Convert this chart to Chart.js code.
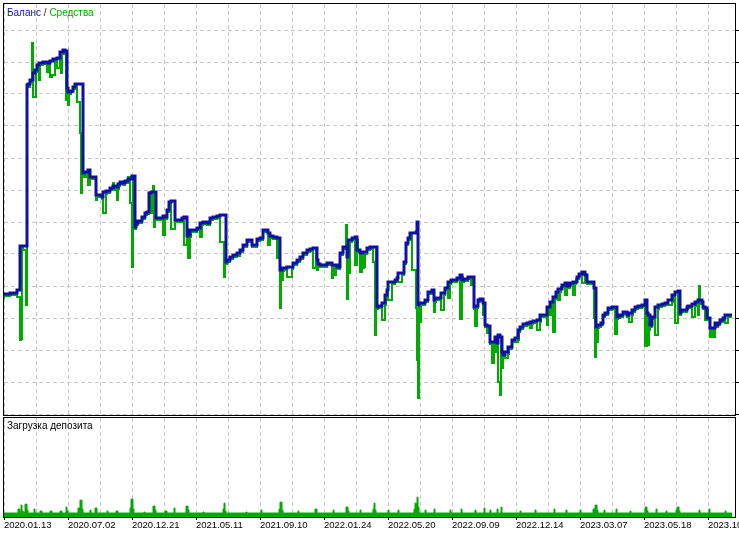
<!DOCTYPE html>
<html>
<head>
<meta charset="utf-8">
<script src="https://cdn.jsdelivr.net/npm/chart.js@4.4.1/dist/chart.umd.min.js"></script>
<style>
html, body { margin: 0; padding: 0; background: #fff; }
#wrap { position: relative; width: 739px; height: 533px; overflow: hidden; background: #fff; }
#top { position: absolute; left: 0; top: 0; }
#bottom { position: absolute; left: 0; top: 416px; }
</style>
</head>
<body>
<div id="wrap">
<canvas id="top" width="739" height="416"></canvas>
<canvas id="bottom" width="739" height="117"></canvas>
</div>
<script>
// x axis = deal number, one date label every 64 deals
var dateLabels = ["2020.01.13", "2020.07.02", "2020.12.21", "2021.05.11", "2021.09.10", "2022.01.24",
    "2022.05.20", "2022.09.09", "2022.12.14", "2023.03.07", "2023.05.18", "2023.10.02"];

var balanceDeals = [
    0, 6, 13, 16, 18, 23, 24, 26, 29, 31, 33, 35, 39, 43, 46, 49, 53, 56, 59, 61,
    63, 64, 67, 69, 71, 73, 79, 80, 84, 86, 88, 92, 93, 98, 99, 102, 106, 109, 113, 114,
    116, 119, 121, 124, 128, 131, 132, 134, 138, 141, 143, 145, 147, 152, 153, 159, 161, 163, 165, 167,
    171, 172, 178, 180, 183, 184, 186, 189, 193, 196, 199, 203, 206, 209, 213, 216, 222, 223, 226, 229,
    233, 236, 239, 243, 245, 248, 249, 253, 256, 259, 262, 264, 266, 269, 273, 276, 278, 283, 289, 293,
    296, 299, 303, 306, 309, 313, 314, 316, 323, 328, 333, 336, 339, 343, 344, 348, 351, 353, 356, 359,
    363, 366, 369, 373, 374, 378, 381, 383, 384, 388, 391, 393, 394, 398, 400, 402, 404, 406, 408, 412,
    413, 414, 415, 418, 421, 424, 428, 430, 431, 434, 437, 441, 444, 447, 449, 453, 456, 458, 460, 464,
    467, 470, 471, 474, 476, 479, 481, 483, 486, 488, 491, 493, 494, 496, 498, 499, 501, 504, 508, 511,
    514, 516, 519, 523, 526, 529, 533, 536, 539, 543, 546, 549, 552, 554, 558, 561, 563, 566, 569, 573,
    575, 578, 581, 583, 586, 590, 592, 593, 597, 599, 601, 604, 608, 611, 613, 614, 616, 619, 623, 625,
    628, 631, 634, 638, 641, 643, 644, 646, 648, 651, 654, 658, 661, 664, 668, 671, 674, 676, 677, 680,
    683, 684, 688, 691, 694, 696, 698, 699, 701, 703, 706, 709, 711, 712, 714, 716, 719, 721, 724, 728
];
var balanceValues = [
    7025, 7000, 7025, 7100, 8200, 8200, 12225, 12250, 12350, 12525, 12600, 12725, 12775, 12800, 12775, 12825, 12875, 12900, 13050, 13100,
    13075, 12150, 12050, 12075, 12175, 12250, 12250, 10025, 10050, 10100, 9925, 9925, 9475, 9475, 9425, 9550, 9575, 9650, 9700, 9675,
    9750, 9800, 9775, 9825, 9875, 9950, 8675, 8775, 8825, 8925, 9025, 9050, 9525, 9550, 8900, 8900, 8950, 8925, 9100, 9300,
    9325, 8850, 8850, 8900, 8925, 8450, 8475, 8600, 8600, 8650, 8775, 8800, 8775, 8900, 8925, 8950, 8975, 7800, 7850, 7925,
    7975, 8025, 8100, 8225, 8350, 8350, 8225, 8225, 8375, 8400, 8600, 8600, 8525, 8450, 8425, 8400, 7600, 7650, 7675, 7775,
    7850, 7925, 8025, 8100, 8125, 8150, 7850, 7750, 7725, 7775, 7725, 7675, 8025, 8175, 7925, 8350, 8400, 8425, 8100, 8025,
    8050, 8150, 8175, 8175, 6675, 6700, 6775, 6975, 7100, 7300, 7300, 7350, 7400, 7525, 7525, 7800, 8275, 8400, 8525, 8525,
    8550, 8800, 6725, 6775, 6775, 6850, 7050, 7100, 6850, 6900, 6900, 7025, 7150, 7300, 7350, 7350, 7400, 7475, 7350, 7375,
    7425, 7425, 6675, 6700, 6850, 6875, 6775, 6225, 6200, 5800, 5800, 5925, 5775, 5975, 5925, 5550, 5475, 5550, 5675, 5850,
    5900, 6100, 6175, 6250, 6275, 6300, 6325, 6350, 6475, 6475, 6675, 6800, 6925, 7050, 7125, 7225, 7275, 7200, 7275, 7300,
    7425, 7500, 7550, 7475, 7300, 7300, 7150, 6175, 6225, 6275, 6475, 6525, 6650, 6675, 6675, 6425, 6450, 6475, 6550, 6475,
    6525, 6600, 6675, 6700, 6725, 6850, 6525, 6475, 6225, 6425, 6675, 6725, 6750, 6775, 6850, 6975, 7050, 7075, 6525, 6600,
    6600, 6675, 6700, 6750, 6800, 6850, 6850, 6800, 6675, 6650, 6400, 6150, 6150, 6275, 6225, 6275, 6350, 6400, 6475, 6475
];

var equityDeals = [
    0, 6, 13, 14, 16, 17, 18, 19, 22, 23, 24, 26, 28, 29, 30, 32, 33, 35, 36, 39,
    43, 44, 46, 48, 49, 51, 53, 56, 57, 58, 59, 61, 62, 63, 64, 65, 67, 69, 71, 73,
    76, 77, 78, 79, 80, 82, 84, 86, 88, 92, 93, 98, 99, 102, 103, 106, 109, 110, 111, 113,
    114, 115, 116, 119, 121, 124, 126, 128, 129, 130, 131, 132, 134, 138, 141, 143, 145, 147, 148, 149,
    150, 151, 152, 153, 159, 161, 162, 163, 165, 167, 171, 172, 178, 180, 183, 184, 186, 187, 189, 193,
    196, 198, 199, 203, 206, 209, 213, 216, 220, 221, 222, 223, 226, 229, 233, 236, 239, 243, 245, 248,
    249, 253, 256, 259, 262, 264, 266, 267, 269, 273, 275, 276, 277, 278, 279, 280, 283, 288, 289, 293,
    296, 299, 303, 306, 309, 312, 313, 314, 316, 323, 328, 329, 330, 332, 333, 336, 339, 342, 343, 344,
    345, 346, 348, 351, 353, 354, 356, 358, 359, 360, 361, 363, 366, 369, 371, 372, 373, 374, 378, 381,
    382, 383, 384, 388, 389, 391, 393, 394, 398, 399, 400, 402, 404, 406, 408, 412, 413, 414, 415, 416,
    417, 418, 421, 424, 428, 430, 431, 432, 434, 437, 440, 441, 444, 446, 447, 449, 453, 456, 458, 459,
    460, 464, 467, 469, 470, 471, 473, 474, 476, 479, 480, 481, 483, 485, 486, 488, 490, 491, 492, 493,
    494, 496, 497, 498, 499, 501, 504, 505, 508, 511, 514, 515, 516, 519, 523, 526, 528, 529, 533, 536,
    537, 539, 543, 544, 546, 548, 549, 551, 552, 554, 556, 557, 561, 563, 564, 566, 569, 571, 572, 575,
    578, 581, 582, 583, 586, 590, 591, 592, 593, 594, 595, 597, 599, 601, 604, 608, 611, 613, 614, 616,
    619, 623, 625, 628, 629, 631, 634, 638, 641, 643, 644, 645, 646, 648, 651, 654, 655, 658, 661, 664,
    668, 669, 671, 674, 675, 676, 677, 680, 683, 684, 688, 691, 692, 694, 695, 696, 697, 699, 701, 703,
    704, 706, 708, 709, 711, 712, 714, 716, 719, 721, 724, 725, 728
];
var equityValues = [
    6875, 6950, 6975, 6925, 6925, 5850, 5875, 8150, 8100, 6725, 12175, 12175, 12300, 13275, 11925, 11925, 12550, 12675, 12350, 12725,
    12750, 12550, 12725, 12425, 12475, 12475, 12825, 12650, 12850, 12525, 13000, 13050, 13000, 11850, 12100, 11725, 12000, 12050, 12125, 12200,
    11800, 11025, 9525, 9975, 9975, 9925, 10000, 9725, 9875, 9875, 9350, 9425, 9375, 9025, 9500, 9525, 9600, 9775, 9600, 9650,
    9350, 9625, 9700, 9750, 9725, 9775, 9925, 9275, 7675, 9850, 9900, 8625, 8725, 8775, 8875, 8975, 9000, 9475, 9025, 9450,
    9700, 8675, 8850, 8850, 8850, 8475, 8900, 8875, 9050, 9250, 8625, 8800, 8800, 8850, 8225, 8400, 7900, 8425, 8550, 8550,
    8600, 8425, 8725, 8750, 8725, 8850, 8875, 8900, 8300, 7425, 7750, 7750, 7800, 7875, 7925, 7950, 8050, 8175, 8300, 8300,
    8175, 8175, 8325, 8350, 8550, 8550, 8225, 8450, 8400, 8375, 7900, 8350, 6650, 7550, 7350, 7575, 7600, 7425, 7625, 7725,
    7800, 7875, 7975, 8050, 8075, 7650, 8100, 7600, 7700, 7675, 7725, 7400, 7700, 7475, 7675, 7625, 7975, 8125, 8725, 6875,
    7900, 7525, 8300, 8350, 7725, 8350, 8050, 7550, 7975, 7650, 7675, 8000, 8100, 8125, 7800, 5975, 8125, 6625, 6650, 6350,
    6725, 6925, 7050, 6850, 7250, 7250, 7300, 7350, 7300, 7475, 7475, 7750, 8225, 8350, 8475, 7600, 6650, 5350, 4400, 6675,
    6300, 6725, 6725, 6800, 7000, 7050, 6550, 6800, 6850, 6850, 6600, 6975, 7100, 6900, 7250, 7300, 7300, 7350, 6375, 7425,
    7300, 7325, 7375, 7225, 7375, 6625, 6200, 6650, 6800, 6825, 6475, 6725, 6175, 6025, 6150, 5750, 5275, 5750, 5550, 5875,
    5725, 4800, 4475, 5875, 5150, 5425, 5400, 5500, 5625, 5800, 5800, 5850, 6050, 6125, 6200, 6225, 6150, 6250, 6275, 6100,
    6300, 6425, 6425, 6225, 6625, 6475, 6750, 6050, 6875, 7000, 6850, 7050, 7175, 6975, 7225, 7150, 7225, 6975, 7250, 7375,
    7450, 7275, 7500, 7425, 7250, 7250, 6400, 5425, 6125, 5800, 6150, 6175, 6225, 6425, 6475, 6600, 6625, 6000, 6375, 6400,
    6425, 6500, 6425, 6300, 6475, 6550, 6625, 6650, 6675, 5700, 6475, 5725, 6100, 6175, 6375, 5975, 6625, 6675, 6700, 6725,
    6725, 6800, 6925, 6275, 7000, 7025, 6475, 6550, 6550, 6625, 6650, 6425, 6700, 6750, 6475, 7200, 6800, 6750, 6625, 6350,
    6600, 6350, 5925, 6100, 5925, 6225, 6175, 6225, 6300, 6350, 6275, 6425, 6425
];

// deposit load, %
var loadDeals = [
    0, 14, 16, 17, 18, 19, 21, 23, 24, 25, 30, 31, 32, 36, 38, 39, 46, 48, 49, 56,
    58, 59, 62, 63, 64, 65, 74, 76, 78, 79, 80, 86, 87, 88, 91, 93, 94, 103, 104, 105,
    112, 114, 115, 126, 127, 129, 130, 131, 140, 141, 142, 149, 151, 152, 153, 161, 163, 164, 170, 171,
    172, 182, 184, 185, 186, 199, 200, 201, 219, 220, 221, 222, 223, 242, 243, 244, 257, 258, 259, 275,
    276, 278, 279, 280, 294, 295, 296, 311, 313, 314, 329, 330, 331, 342, 344, 345, 346, 356, 357, 358,
    369, 370, 371, 372, 373, 384, 385, 386, 394, 395, 396, 410, 411, 413, 414, 415, 416, 421, 422, 423,
    430, 431, 432, 446, 447, 448, 457, 458, 459, 471, 472, 473, 480, 481, 482, 486, 487, 488, 493, 494,
    495, 497, 498, 499, 516, 517, 518, 531, 532, 533, 550, 551, 552, 562, 563, 564, 576, 577, 578, 589,
    591, 593, 594, 595, 600, 601, 602, 612, 613, 614, 626, 627, 628, 641, 643, 644, 645, 652, 653, 654,
    662, 663, 664, 672, 673, 675, 676, 677, 695, 696, 697, 705, 706, 707, 721, 722, 723, 728
];
var loadValues = [
    4, 4, 8, 4, 12, 6, 5, 13, 7, 4, 4, 8, 4, 4, 6, 4, 4, 6, 4, 4,
    6, 4, 4, 10, 6, 4, 4, 9, 17, 8, 4, 4, 7, 4, 4, 9, 4, 4, 6, 4,
    4, 6, 4, 4, 9, 18, 8, 4, 4, 5, 4, 4, 11, 7, 4, 4, 6, 4, 4, 9,
    4, 4, 11, 7, 4, 4, 5, 4, 4, 8, 14, 6, 4, 4, 5, 4, 4, 7, 4, 4,
    8, 15, 7, 4, 4, 6, 4, 4, 8, 4, 4, 7, 4, 4, 10, 6, 4, 4, 7, 4,
    4, 8, 14, 7, 4, 4, 7, 4, 4, 7, 4, 4, 8, 14, 20, 10, 4, 4, 7, 4,
    4, 8, 4, 4, 7, 4, 4, 8, 4, 4, 7, 4, 4, 9, 4, 4, 7, 4, 4, 8,
    4, 4, 10, 4, 4, 6, 4, 4, 7, 4, 4, 8, 4, 4, 7, 4, 4, 7, 4, 4,
    8, 12, 7, 4, 4, 7, 4, 4, 8, 4, 4, 6, 4, 4, 10, 6, 4, 4, 8, 4,
    4, 6, 4, 4, 7, 10, 6, 4, 4, 7, 4, 4, 8, 4, 4, 6, 4, 4
];

var dealMax = 731;
var gridStep = 32;
var labelStep = 64;
var balanceMin = 3975, balanceMax = 14250, balanceGrid = 800;

var blue = '#1010a8';
var green = '#00aa00';
var gridColor = '#c8c8c8';

function pts(xs, ys) {
    var out = [];
    for (var i = 0; i < xs.length; i++) out.push({ x: xs[i], y: ys[i] });
    return out;
}

function xTicks(scale) {
    var t = [];
    for (var v = 0; v < dealMax; v += gridStep) t.push({ value: v });
    scale.ticks = t;
}

var framePlugin = {
    id: 'frame',
    afterDraw: function (chart) {
        var a = chart.chartArea, c = chart.ctx;
        c.save();
        c.strokeStyle = '#000';
        c.lineWidth = 1;
        c.strokeRect(Math.round(a.left) - 0.5, Math.round(a.top) - 0.5,
            Math.round(a.right - a.left) + 1, Math.round(a.bottom - a.top) + 1);
        c.restore();
    }
};

var topTitle = {
    id: 'topTitle',
    afterDraw: function (chart) {
        var c = chart.ctx;
        c.save();
        c.font = "10px 'Liberation Sans Narrow', 'Liberation Sans', sans-serif";
        c.textBaseline = 'alphabetic';
        var x = 7, y = 16;
        c.fillStyle = blue;
        c.fillText('Баланс', x, y);
        x += c.measureText('Баланс ').width;
        c.fillStyle = '#333';
        c.fillText('/', x, y);
        x += c.measureText('/ ').width;
        c.fillStyle = green;
        c.fillText('Средства', x, y);
        c.restore();
    }
};

var bottomTitle = {
    id: 'bottomTitle',
    afterDraw: function (chart) {
        var c = chart.ctx;
        c.save();
        c.font = "10px 'Liberation Sans Narrow', 'Liberation Sans', sans-serif";
        c.fillStyle = '#000';
        c.fillText('Загрузка депозита', 7, 13);
        c.restore();
    }
};

window.onload = function () {
    var ctxTop = document.getElementById('top').getContext('2d');
    window.chartTop = new Chart(ctxTop, {
        type: 'line',
        data: {
            datasets: [
                {
                    label: 'Баланс',
                    data: pts(balanceDeals, balanceValues),
                    borderColor: blue,
                    borderWidth: 3,
                    borderJoinStyle: 'miter',
                    stepped: 'after',
                    pointRadius: 0,
                    fill: false
                },
                {
                    label: 'Средства',
                    data: pts(equityDeals, equityValues),
                    borderColor: green,
                    borderWidth: 2,
                    borderJoinStyle: 'miter',
                    stepped: 'after',
                    pointRadius: 0,
                    fill: false
                }
            ]
        },
        options: {
            responsive: false,
            animation: false,
            events: [],
            layout: { padding: { left: 4, top: 4, right: 0, bottom: 1 } },
            plugins: { legend: { display: false }, tooltip: { enabled: false } },
            scales: {
                x: {
                    type: 'linear',
                    min: 0,
                    max: dealMax,
                    afterBuildTicks: xTicks,
                    afterFit: function (s) { s.height = 0; s.paddingLeft = 0; s.paddingRight = 0; },
                    ticks: { display: false },
                    grid: { color: gridColor, drawTicks: false },
                    border: { display: false, dash: [4, 3] }
                },
                y: {
                    position: 'right',
                    min: balanceMin,
                    max: balanceMax,
                    afterBuildTicks: function (scale) {
                        var t = [];
                        for (var v = 4000; v < balanceMax; v += balanceGrid) t.push({ value: v });
                        scale.ticks = t;
                    },
                    afterFit: function (s) { s.width = 4; },
                    ticks: { display: false },
                    grid: { color: gridColor, drawTicks: true, tickLength: 4, tickColor: '#000', tickBorderDash: [] },
                    border: { display: false, dash: [4, 3] }
                }
            }
        },
        plugins: [framePlugin, topTitle]
    });

    var ctxBottom = document.getElementById('bottom').getContext('2d');
    window.chartBottom = new Chart(ctxBottom, {
        type: 'line',
        data: {
            datasets: [
                {
                    label: 'Загрузка депозита',
                    data: pts(loadDeals, loadValues),
                    borderColor: green,
                    backgroundColor: green,
                    borderWidth: 1,
                    stepped: 'after',
                    pointRadius: 0,
                    fill: 'origin'
                }
            ]
        },
        options: {
            responsive: false,
            animation: false,
            events: [],
            layout: { padding: { left: 4, top: 2, right: 4, bottom: 0 } },
            plugins: { legend: { display: false }, tooltip: { enabled: false } },
            scales: {
                x: {
                    type: 'linear',
                    min: 0,
                    max: dealMax,
                    afterBuildTicks: xTicks,
                    afterFit: function (s) { s.height = 16; s.paddingLeft = 0; s.paddingRight = 0; },
                    ticks: {
                        autoSkip: false,
                        maxRotation: 0,
                        minRotation: 0,
                        align: 'start',
                        padding: 0,
                        color: '#000',
                        font: { family: "'Liberation Sans', sans-serif", size: 9.5 },
                        callback: function (v) { return v % labelStep === 0 ? dateLabels[v / labelStep] : ''; }
                    },
                    grid: {
                        color: gridColor,
                        drawTicks: true,
                        tickLength: 3,
                        tickColor: function (c) { return c.tick && c.tick.value % labelStep === 0 ? '#000' : 'rgba(0,0,0,0)'; }
                    },
                    border: { display: false, dash: [4, 3] }
                },
                y: {
                    display: false,
                    min: 0,
                    max: 100
                }
            }
        },
        plugins: [framePlugin, bottomTitle]
    });
};
</script>
</body>
</html>
